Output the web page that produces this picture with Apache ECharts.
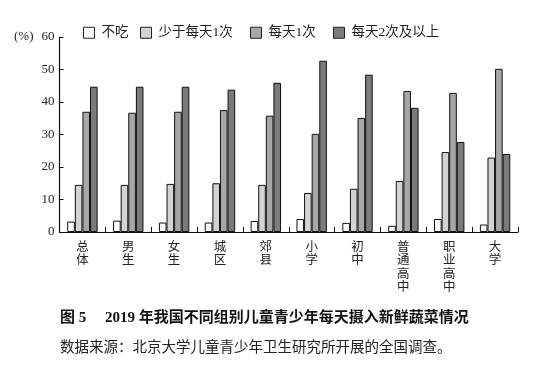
<!DOCTYPE html>
<html><head><meta charset="utf-8">
<script src="https://cdn.jsdelivr.net/npm/echarts@6/dist/echarts.min.js"></script>
<style>html,body{margin:0;padding:0;background:#fff}#c{width:540px;height:372px}</style>
</head><body><div id="c"></div>
<script>
var categories = ['总\n体','男\n生','女\n生','城\n区','郊\n县','小\n学','初\n中','普\n通\n高\n中','职\n业\n高\n中','大\n学'];
var seriesNames = ['不吃','少于每天1次','每天1次','每天2次及以上'];
var neverEat = [3.2, 3.5, 2.9, 2.9, 3.4, 4.0, 2.8, 1.9, 4.0, 2.3];
var lessThanDaily = [14.5, 14.5, 14.8, 15.0, 14.5, 12.0, 13.3, 15.7, 24.6, 22.9];
var oncePerDay = [37.0, 36.7, 37.0, 37.5, 35.8, 30.2, 35.1, 43.4, 42.8, 50.2];
var twicePlus = [44.7, 44.7, 44.7, 43.8, 45.9, 52.7, 48.4, 38.2, 27.7, 24.0];
var yTicks = [0, 10, 20, 30, 40, 50, 60];
var captionTitle = '图 5　 2019 年我国不同组别儿童青少年每天摄入新鲜蔬菜情况';
var captionSource = '数据来源：北京大学儿童青少年卫生研究所开展的全国调查。';

var FONT = '"Liberation Serif", "Noto Sans CJK SC", serif';
var colors = ['#ffffff', '#d3d3d3', '#a7a7a8', '#7b7b7d'];
var values = [neverEat, lessThanDaily, oncePerDay, twicePlus];
var legendLefts = [83, 140, 250, 333];

var chart = echarts.init(document.getElementById('c'), null, {renderer: 'canvas'});
chart.setOption({
  animation: false,
  backgroundColor: '#fff',
  textStyle: {fontFamily: FONT},
  legend: seriesNames.map(function(n, i){
    return {
      data: [n], left: legendLefts[i], top: 26, padding: 0,
      itemWidth: 11, itemHeight: 11,
      icon: 'rect',
      textStyle: {fontFamily: FONT, fontSize: 13.5, color: '#222', padding: [0,0,0,2]},
      itemStyle: {borderColor: '#222', borderWidth: 1}
    };
  }),
  grid: {left: 59.5, right: 22, top: 37, bottom: 140, containLabel: false},
  xAxis: {
    type: 'category', data: categories,
    axisLine: {lineStyle: {color: '#111', width: 1.2}},
    axisTick: {show: true, inside: true, length: 5, lineStyle: {color: '#111'}},
    axisLabel: {fontFamily: FONT, fontSize: 12.5, color: '#222', lineHeight: 13.3, margin: 9}
  },
  yAxis: {
    type: 'value', min: yTicks[0], max: yTicks[yTicks.length-1], interval: 10,
    name: '(%)', nameLocation: 'end', nameGap: 0,
    nameTextStyle: {fontFamily: FONT, fontSize: 13, color: '#222', align: 'right', verticalAlign: 'middle', padding: [0, 26, 0, 0]},
    splitLine: {show: false},
    axisLine: {show: true, lineStyle: {color: '#111', width: 1.2}},
    axisTick: {show: true, inside: true, length: 4, lineStyle: {color: '#111'}},
    axisLabel: {fontFamily: FONT, fontSize: 13, color: '#222', margin: 5}
  },
  series: seriesNames.map(function(n, i){
    return {
      name: n, type: 'bar', data: values[i],
      barWidth: 7.6, barGap: '0%',
      itemStyle: {color: colors[i], borderColor: '#111', borderWidth: 1}
    };
  }),
  graphic: [
    {type: 'text', left: 60, top: 311, style: {text: captionTitle, font: 'bold 15px "Liberation Serif", "Noto Sans CJK SC", serif', fill: '#111'}},
    {type: 'text', left: 60, top: 340.5, style: {text: captionSource, font: '14.5px "Liberation Serif", "Noto Sans CJK SC", serif', fill: '#222'}}
  ]
});
</script></body></html>
